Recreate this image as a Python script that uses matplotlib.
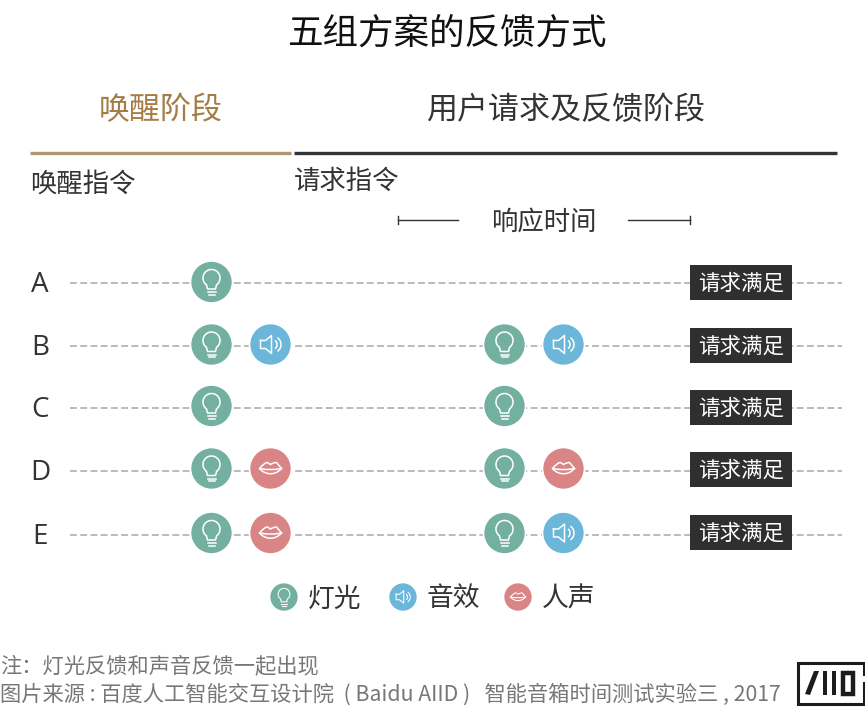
import matplotlib.pyplot as plt
from matplotlib.patches import Circle, Rectangle, Polygon, Arc, PathPatch
from matplotlib.path import Path

plt.rcParams['font.family'] = ['Noto Sans CJK SC', 'DejaVu Sans']

# data
groups = ["A", "B", "C", "D", "E"]
wake_feedback = [["light"], ["light", "sound"], ["light"], ["light", "voice"], ["light", "voice"]]
request_feedback = [[], ["light", "sound"], ["light"], ["light", "voice"], ["light", "sound"]]
legend_kinds = ["light", "sound", "voice"]
legend_labels = ["灯光", "音效", "人声"]
end_label = "请求满足"

# layout, in pixels of the reference
row_line_y = [283, 346, 408, 471, 535]
row_icon_y = [282, 344.5, 406, 468.5, 533]
row_box_y = [282, 345, 407, 469, 532]
colors = {"light": "#74b09f", "sound": "#6cb6da", "voice": "#d98586"}

fig = plt.figure(figsize=(8.65, 7.19), dpi=100)
ax = fig.add_axes([0, 0, 1, 1])
ax.set_xlim(0, 865)
ax.set_ylim(719, 0)
ax.axis("off")


def draw_bulb(x, y, r):
    s = r / 21
    lw = 1.1 * s
    ax.add_patch(Arc((x, y - 4 * s), 17 * s, 17 * s, theta1=125, theta2=55, color="white", lw=lw, zorder=5))
    ax.plot([x - 5 * s, x - 4 * s, x + 4 * s, x + 5 * s],
            [y + 3 * s, y + 7 * s, y + 7 * s, y + 3 * s], color="white", lw=lw, zorder=5)
    ax.plot([x - 4 * s, x + 4 * s], [y + 10 * s, y + 10 * s], color="white", lw=lw, zorder=5)
    ax.plot([x - 3 * s, x + 3 * s], [y + 12.5 * s, y + 12.5 * s], color="white", lw=lw, zorder=5)


def draw_sound(x, y, r):
    s = r / 21
    lw = 1.1 * s
    xs = [x - 10 * s, x - 5 * s, x + 1 * s, x + 1 * s, x - 5 * s, x - 10 * s, x - 10 * s]
    ys = [y - 4 * s, y - 4 * s, y - 9 * s, y + 9 * s, y + 4 * s, y + 4 * s, y - 4 * s]
    ax.plot(xs, ys, color="white", lw=lw, zorder=5)
    ax.add_patch(Arc((x + 3 * s, y), 7 * s, 9 * s, theta1=-70, theta2=70, color="white", lw=lw, zorder=5))
    ax.add_patch(Arc((x + 3 * s, y), 15 * s, 16 * s, theta1=-60, theta2=60, color="white", lw=lw, zorder=5))


def draw_lips(x, y, r):
    s = r / 21
    lw = 1.1 * s
    verts = [(x - 11 * s, y), (x - 6 * s, y - 6 * s), (x - 3 * s, y - 6 * s), (x, y - 4 * s),
             (x + 3 * s, y - 6 * s), (x + 6 * s, y - 6 * s), (x + 11 * s, y),
             (x + 5 * s, y + 7 * s), (x - 5 * s, y + 7 * s), (x - 11 * s, y)]
    codes = [Path.MOVETO, Path.CURVE3, Path.CURVE3, Path.LINETO,
             Path.CURVE3, Path.CURVE3, Path.LINETO,
             Path.CURVE4, Path.CURVE4, Path.CURVE4]
    ax.add_patch(PathPatch(Path(verts, codes), fc="none", ec="white", lw=lw, zorder=5))
    ax.plot([x - 11 * s, x - 4 * s, x + 4 * s, x + 11 * s], [y, y + 1 * s, y + 1 * s, y],
            color="white", lw=lw, zorder=5)


drawers = {"light": draw_bulb, "sound": draw_sound, "voice": draw_lips}


def draw_icon(kind, x, y, r=21):
    ax.add_patch(Circle((x, y), r, fc=colors[kind], ec="white", lw=1.2, zorder=4))
    drawers[kind](x, y, r)


# title and headers
ax.text(447, 34, "五组方案的反馈方式", fontsize=25.6, color="#111111", ha="center", va="center")
ax.text(161, 111, "唤醒阶段", fontsize=22.3, color="#a57c45", ha="center", va="center")
ax.text(566, 111, "用户请求及反馈阶段", fontsize=22.3, color="#333333", ha="center", va="center")
ax.plot([30, 291], [153, 153], color="#b0976f", lw=2.4, solid_capstyle="butt")
ax.plot([294, 837], [153, 153], color="#33343a", lw=2.4, solid_capstyle="butt")
ax.text(30, 184, "唤醒指令", fontsize=19, color="#333333", ha="left", va="center")
ax.text(294, 181, "请求指令", fontsize=19, color="#333333", ha="left", va="center")

# response time bracket
ax.text(544, 222, "响应时间", fontsize=19, color="#333333", ha="center", va="center")
ax.plot([398, 458], [220, 220], color="#333333", lw=1)
ax.plot([628, 690], [220, 220], color="#333333", lw=1)
ax.plot([398, 398], [216, 224], color="#333333", lw=1)
ax.plot([690, 690], [216, 224], color="#333333", lw=1)

# rows
for i, name in enumerate(groups):
    ax.text(40, row_line_y[i] + 2, name, fontsize=20, color="#333333", ha="center", va="center",
            family="Open Sans")
    ax.plot([70, 842], [row_line_y[i], row_line_y[i]], color="#a8a8a8", lw=1.1,
            dashes=(4.5, 2.2), zorder=1)
    for j, kind in enumerate(wake_feedback[i]):
        draw_icon(kind, 211.5 + 59 * j, row_icon_y[i])
    for j, kind in enumerate(request_feedback[i]):
        draw_icon(kind, 504.5 + 59 * j, row_icon_y[i])
    ax.add_patch(Rectangle((690, row_box_y[i] - 17.5), 102, 35, fc="#2f2f2f", ec="none", zorder=3))
    ax.text(741, row_box_y[i] + 2, end_label, fontsize=15.5, color="white", ha="center", va="center", zorder=4)

# legend
legend_icon_x = [284, 403, 518]
for kind, label, x in zip(legend_kinds, legend_labels, legend_icon_x):
    draw_icon(kind, x, 597, r=14.5)
    ax.text(x + 24, 599, label, fontsize=19.3, color="#333333", ha="left", va="center")

# footer
ax.text(0, 666, "注：灯光反馈和声音反馈一起出现", fontsize=15.3, color="#777777", ha="left", va="center")
ax.text(0, 695, "图片来源 : 百度人工智能交互设计院  ( Baidu AIID )   智能音箱时间测试实验三 , 2017",
        fontsize=15.3, color="#777777", ha="left", va="center")

# logo
ax.plot([864, 864, 798, 798, 864, 864], [674, 663, 663, 704, 704, 683],
        color="#1c1c1c", lw=2.2, solid_joinstyle="miter")
ax.add_patch(Polygon([(805, 694), (814, 671), (819, 671), (810, 695)], fc="#1c1c1c", ec="none"))
ax.add_patch(Rectangle((823, 671), 4, 24, fc="#1c1c1c", ec="none"))
ax.add_patch(Rectangle((832, 671), 4, 24, fc="#1c1c1c", ec="none"))
ax.add_patch(Rectangle((843, 672.5), 10, 21, fc="none", ec="#1c1c1c", lw=3.2))

fig.savefig("out.png", dpi=100)
